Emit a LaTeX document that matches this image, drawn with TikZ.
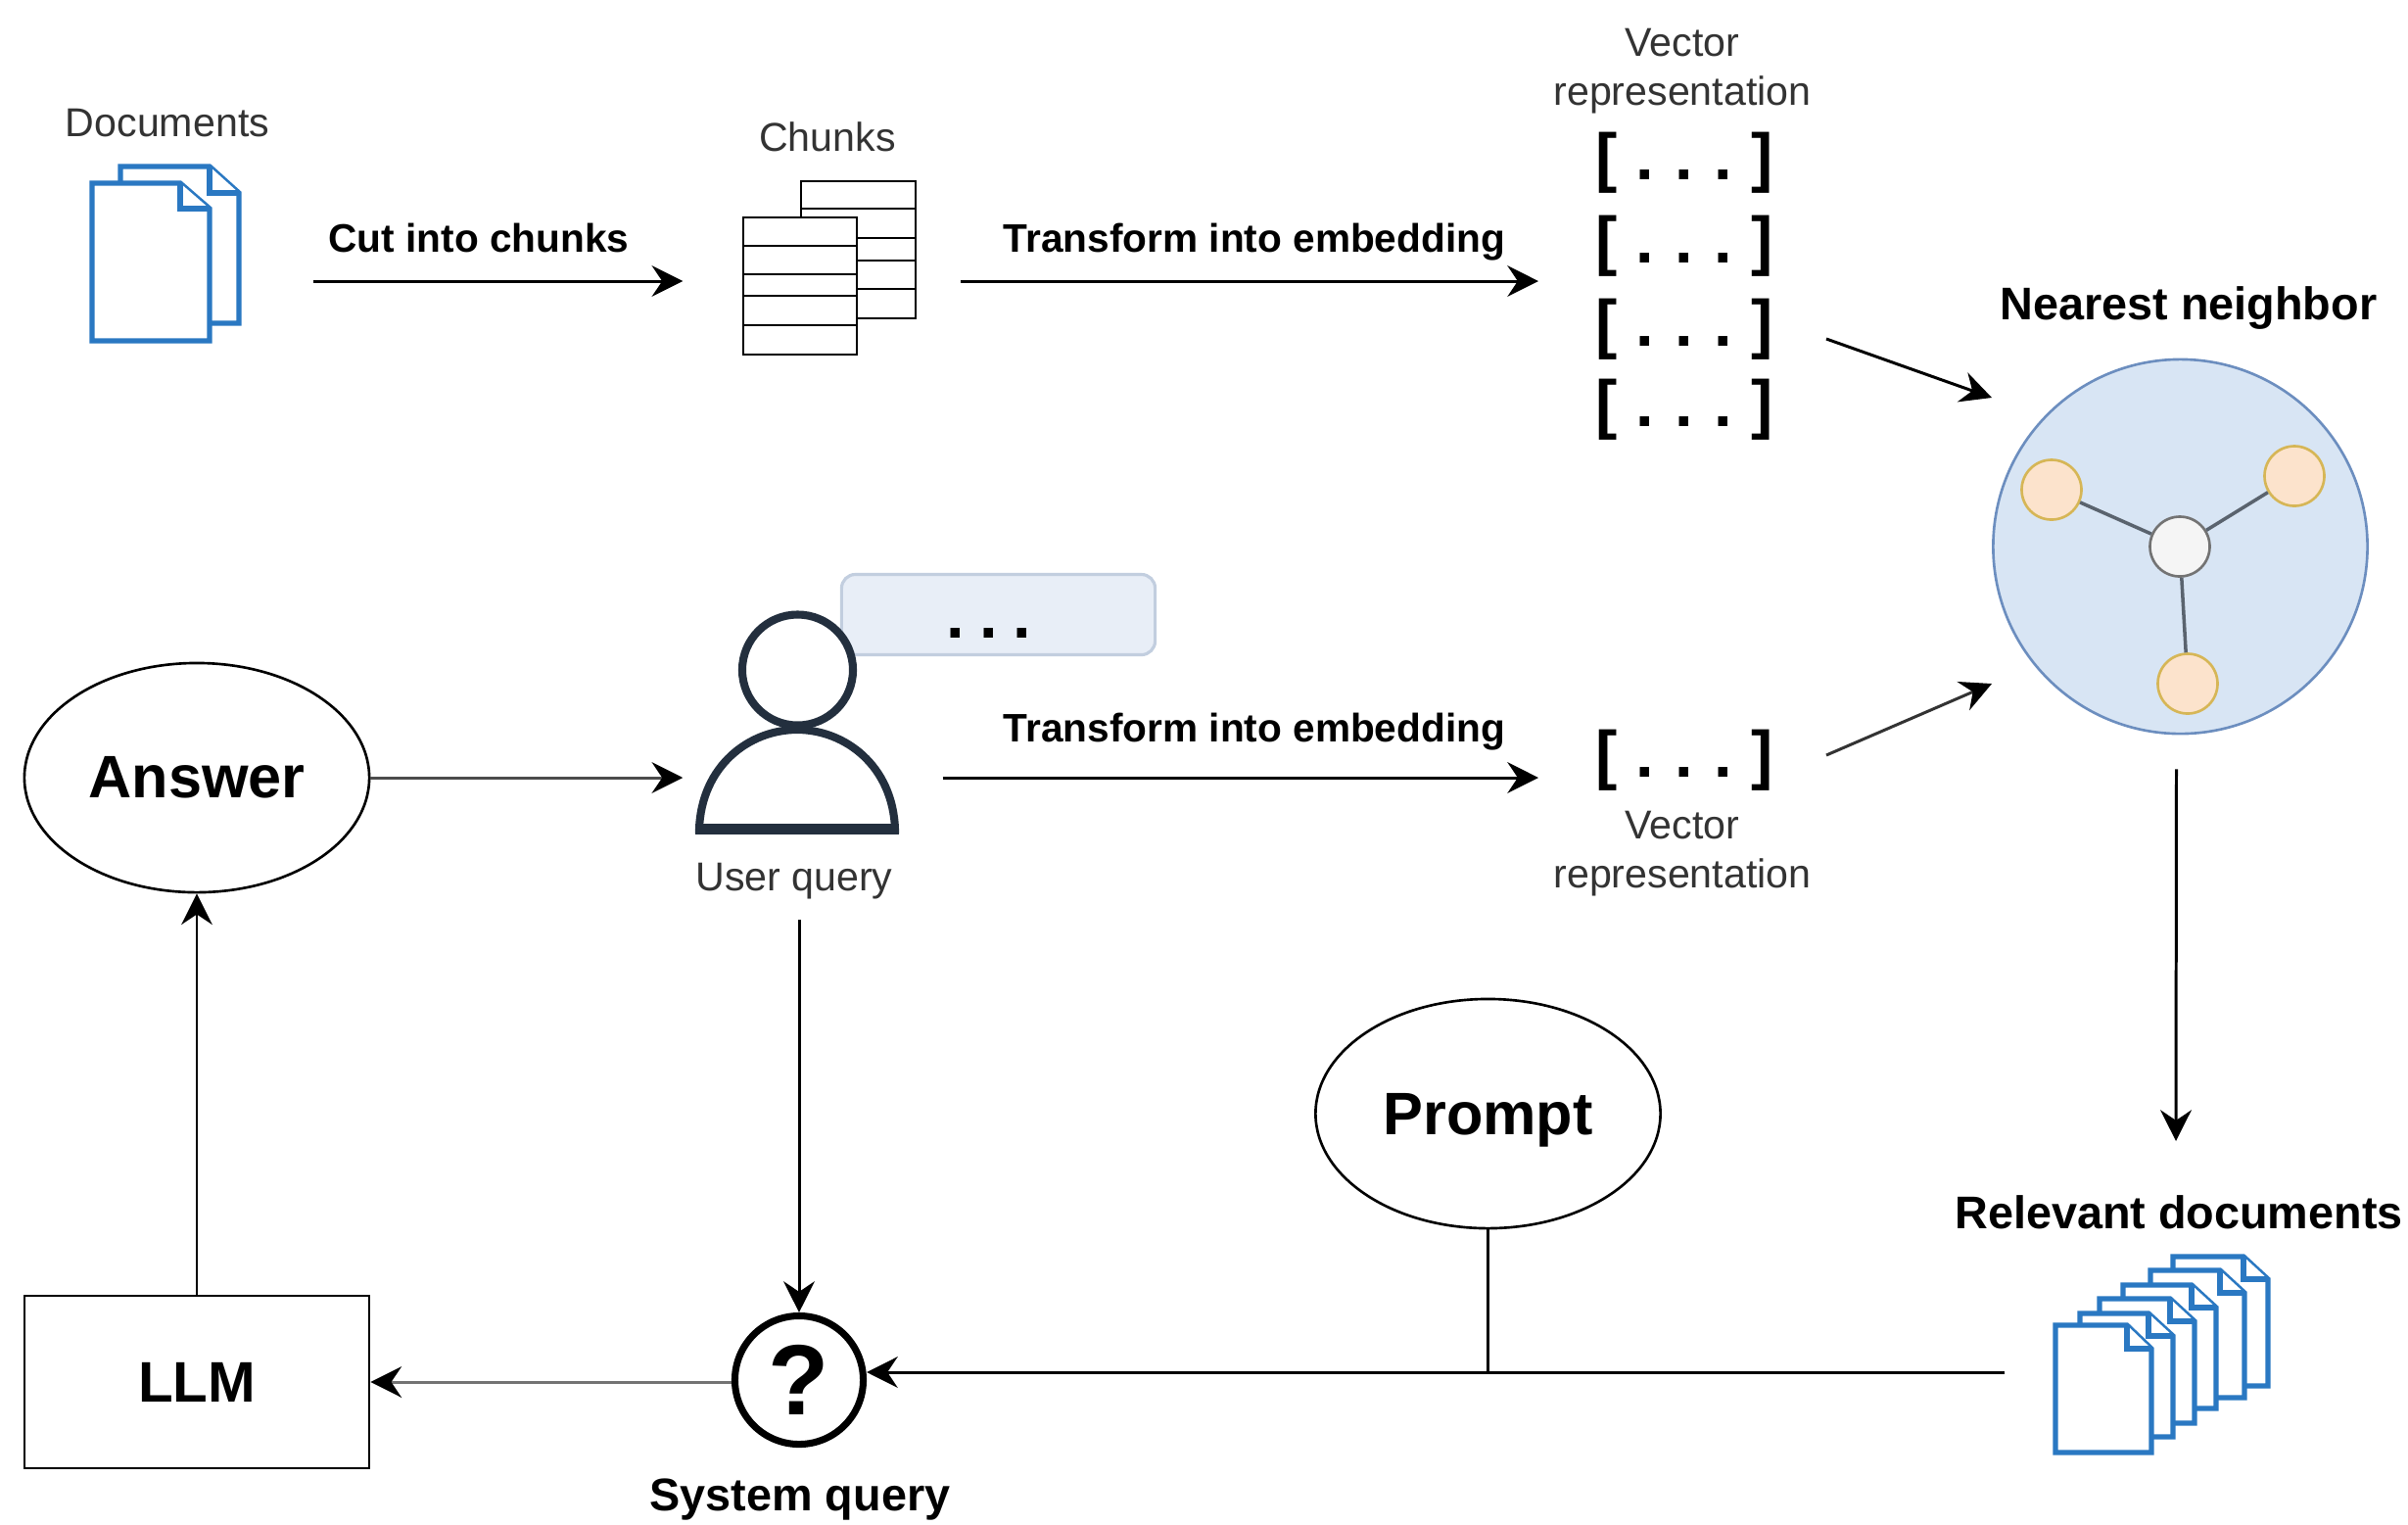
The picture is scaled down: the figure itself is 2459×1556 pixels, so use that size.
\documentclass[tikz,border=0pt]{standalone}
\usepackage{fontspec}
\setmainfont{Liberation Sans}
\usetikzlibrary{arrows.meta, calc, fit, shapes.geometric}

\definecolor{docblue}{HTML}{2A78C2}
\definecolor{slatedark}{HTML}{232F3E}
\definecolor{labelgray}{HTML}{333333}
\definecolor{nnfill}{HTML}{D8E5F4}
\definecolor{nnline}{HTML}{6C8EBF}
\definecolor{memberfill}{HTML}{FCE3CC}
\definecolor{memberline}{HTML}{D6B656}
\definecolor{bubblefill}{HTML}{E8EEF7}
\definecolor{bubbleline}{HTML}{C2CEDF}

% one sheet of paper with a folded corner: x0, y0, x1, y1, fold width, fold height
\newcommand{\docpage}[6]{
    \draw[doc sheet] (#1,#2) -- ({#3-#5},#2) -- (#3,{#2+#6}) -- (#3,#4) -- (#1,#4) -- cycle;
    \draw[doc sheet] ({#3-#5},#2) -- ({#3-#5},{#2+#6}) -- (#3,{#2+#6});
}
\newcommand{\vecdots}{[\hspace{5.4pt}.\hspace{6.1pt}.\hspace{6.1pt}.\hspace{5.4pt}]}

\begin{document}
\begin{tikzpicture}[x=0.01cm, y=-0.01cm,
            doc sheet/.style={draw=docblue, line width=1.5pt, fill=white, line join=miter},
            table cell/.style={draw=black, line width=0.8pt, fill=white},
            plain label/.style={font=\fontsize{11.7}{14.2}\selectfont, text=labelgray, align=center, inner sep=0pt},
            step label/.style={font=\fontsize{11.55}{14}\selectfont\bfseries, inner sep=0pt},
            head label/.style={font=\fontsize{13.3}{16}\selectfont\bfseries, inner sep=0pt},
            vec text/.style={font=\fontsize{19}{22}\selectfont\bfseries, anchor=base, inner sep=0pt},
            big oval/.style={draw, ellipse, line width=0.75pt, minimum width=3.52cm, minimum height=2.34cm, font=\fontsize{17.4}{20}\selectfont\bfseries},
            member/.style={draw=#1, circle, line width=0.75pt, minimum size=0.61cm, inner sep=0pt},
            spoke/.style={draw=slatedark!75, line width=1pt},
            flow/.style={-{Stealth[length=9pt, width=9pt, inset=3pt, color=black]}, line width=0.85pt},
            link/.style={line width=0.85pt}]

    \useasboundingbox (0,0) rectangle (2459,1556);

    % Documents
    \node[plain label] (docslabel) at (171,126) {Documents};
    \docpage{123}{170}{244}{330}{30}{27}
    \docpage{94}{187}{214}{348}{30}{26}
    \node[fit={(91,170) (246,348)}, inner sep=0pt] (docs) {};

    % Chunks
    \node[plain label] (chunkslabel) at (845,140) {Chunks};
    \draw[table cell] (818,185) rectangle (935,325);
    \foreach \y in {213,243,266,295} \draw[table cell] (818,\y) -- (935,\y);
    \draw[table cell] (759,222) rectangle (875,362);
    \foreach \y in {251,280,302,332} \draw[table cell] (759,\y) -- (875,\y);
    \node[fit={(759,185) (935,362)}, inner sep=0pt] (chunks) {};

    % Vector representations
    \node[plain label] (veclabel) at (1718,73) {Vector\\representation};
    \node[vec text] (vec1) at (1720,183.5) {\vecdots};
    \node[vec text] (vec2) at (1720,268.5) {\vecdots};
    \node[vec text] (vec3) at (1720,353.5) {\vecdots};
    \node[vec text] (vec4) at (1720,435.5) {\vecdots};

    % Nearest neighbor
    \node[head label] (nnlabel) at (2235,314) {Nearest neighbor};
    \node[draw=nnline, fill=nnfill, circle, line width=0.75pt, minimum size=3.82cm, inner sep=0pt] (nn) at (2226.5,558) {};
    \node[member=memberline, fill=memberfill] (nnleft) at (2095,500) {};
    \node[member=memberline, fill=memberfill] (nnright) at (2343,486) {};
    \node[member=memberline, fill=memberfill] (nnbottom) at (2234,698) {};
    \node[member=gray!90!black, fill=gray!8] (nncenter) at (2226,558) {};
    \draw[spoke] (nncenter) -- (nnleft);
    \draw[spoke] (nncenter) -- (nnright);
    \draw[spoke] (nncenter) -- (nnbottom);

    % User with speech bubble
    \node[draw=bubbleline, fill=bubblefill, rounded corners=4pt, line width=0.9pt, minimum width=3.2cm, minimum height=0.82cm, inner sep=0pt] (bubble) at (1019.5,627.5) {};
    \node[vec text] (bubbledots) at (1010,651) {.\hspace{4.4pt}.\hspace{4.4pt}.};
    \node[draw=slatedark, fill=white, circle, line width=2.3pt, minimum size=1.13cm, inner sep=0pt] (head) at (814.5,684) {};
    \draw[draw=slatedark, fill=white, line width=2.3pt] (714,847) .. controls (716,782) and (765,745) .. (814,745) .. controls (863,745) and (912,782) .. (914,847) -- cycle;
    \draw[draw=slatedark, line width=3.1pt] (710,846.5) -- (918,846.5);
    \node[fit={(710,624) (918,852)}, inner sep=0pt] (user) {};
    \node[plain label] (userlabel) at (811,900) {User query};

    % Lower vector
    \node[vec text] (lowvec) at (1720,793.5) {\vecdots};
    \node[plain label] (lowveclabel) at (1718,872) {Vector\\representation};

    % Ovals and LLM box
    \node[big oval] (answer) at (201,794) {Answer};
    \node[big oval, text depth=0pt] (prompt) at (1519.5,1137) {Prompt};
    \node[draw, line width=0.75pt, minimum width=3.52cm, minimum height=1.76cm, font=\fontsize{16.6}{20}\selectfont\bfseries] (llm) at (201,1411) {LLM};

    % System query
    \node[draw, circle, line width=2pt, minimum size=1.31cm, inner sep=0pt, font=\fontsize{29}{30}\selectfont\bfseries] (question) at (816,1409) {?};
    \node[head label] (querylabel) at (817,1531) {System query};

    % Relevant documents
    \node[head label, anchor=base] (rellabel) at (2225,1254) {Relevant documents};
    \docpage{2219}{1283}{2316}{1415}{25}{23}
    \docpage{2196}{1297}{2292}{1427}{25}{23}
    \docpage{2168}{1312}{2263}{1438}{25}{23}
    \docpage{2144}{1326}{2241}{1453}{25}{23}
    \docpage{2124}{1341}{2219}{1467}{25}{23}
    \docpage{2099}{1353}{2197}{1483}{25}{24}
    \node[fit={(2099,1283) (2316,1483)}, inner sep=0pt] (reldocs) {};

    % Top row arrows
    \node[step label] (cutlabel) at (489,243) {Cut into chunks};
    \draw[flow] ($(docs.east)+(73,28)$) -- ($(chunks.west)+(-61,13.5)$);
    \node[step label] (embedtop) at (1281,247) {Transform into embedding};
    \draw[flow] ($(chunks.east)+(45,13.5)$) -- ($(vec2.base)+(-149,18.5)$);
    \draw[flow] ($(vec3.base)+(145,-7.5)$) -- ($(nn.center)+(-192.5,-152)$);

    % Middle row arrows
    \draw[flow, draw=black!70] (answer.east) -- ($(user.west)+(-12,56)$);
    \node[step label] (embedlow) at (1281,747) {Transform into embedding};
    \draw[flow] ($(user.east)+(44,56)$) -- ($(lowvec.base)+(-149,0.5)$);
    \draw[flow, draw=black!80] ($(lowvec.base)+(145,-22.5)$) -- ($(nn.center)+(-192.5,140)$);
    \draw[flow] ($(nn.south)+(-4,35)$) -- ($(rellabel.base)+(-3,-89)$);

    % Bottom row arrows
    \draw[flow] (userlabel.south -| question.north) ++(0,20) -- (question.north);
    \coordinate (relstart) at ($(reldocs.west)+(-51,18)$);
    \coordinate (reljoin) at (prompt.south |- relstart);
    \draw[flow] (relstart) -- ($(question.east)+(0,-8)$);
    \draw[link] (prompt.south) -- (reljoin);
    \draw[flow, draw=black!55] (question.west |- llm.east) -- (llm.east);
    \draw[flow] (llm.north) -- (answer.south);
\end{tikzpicture}
\end{document}
